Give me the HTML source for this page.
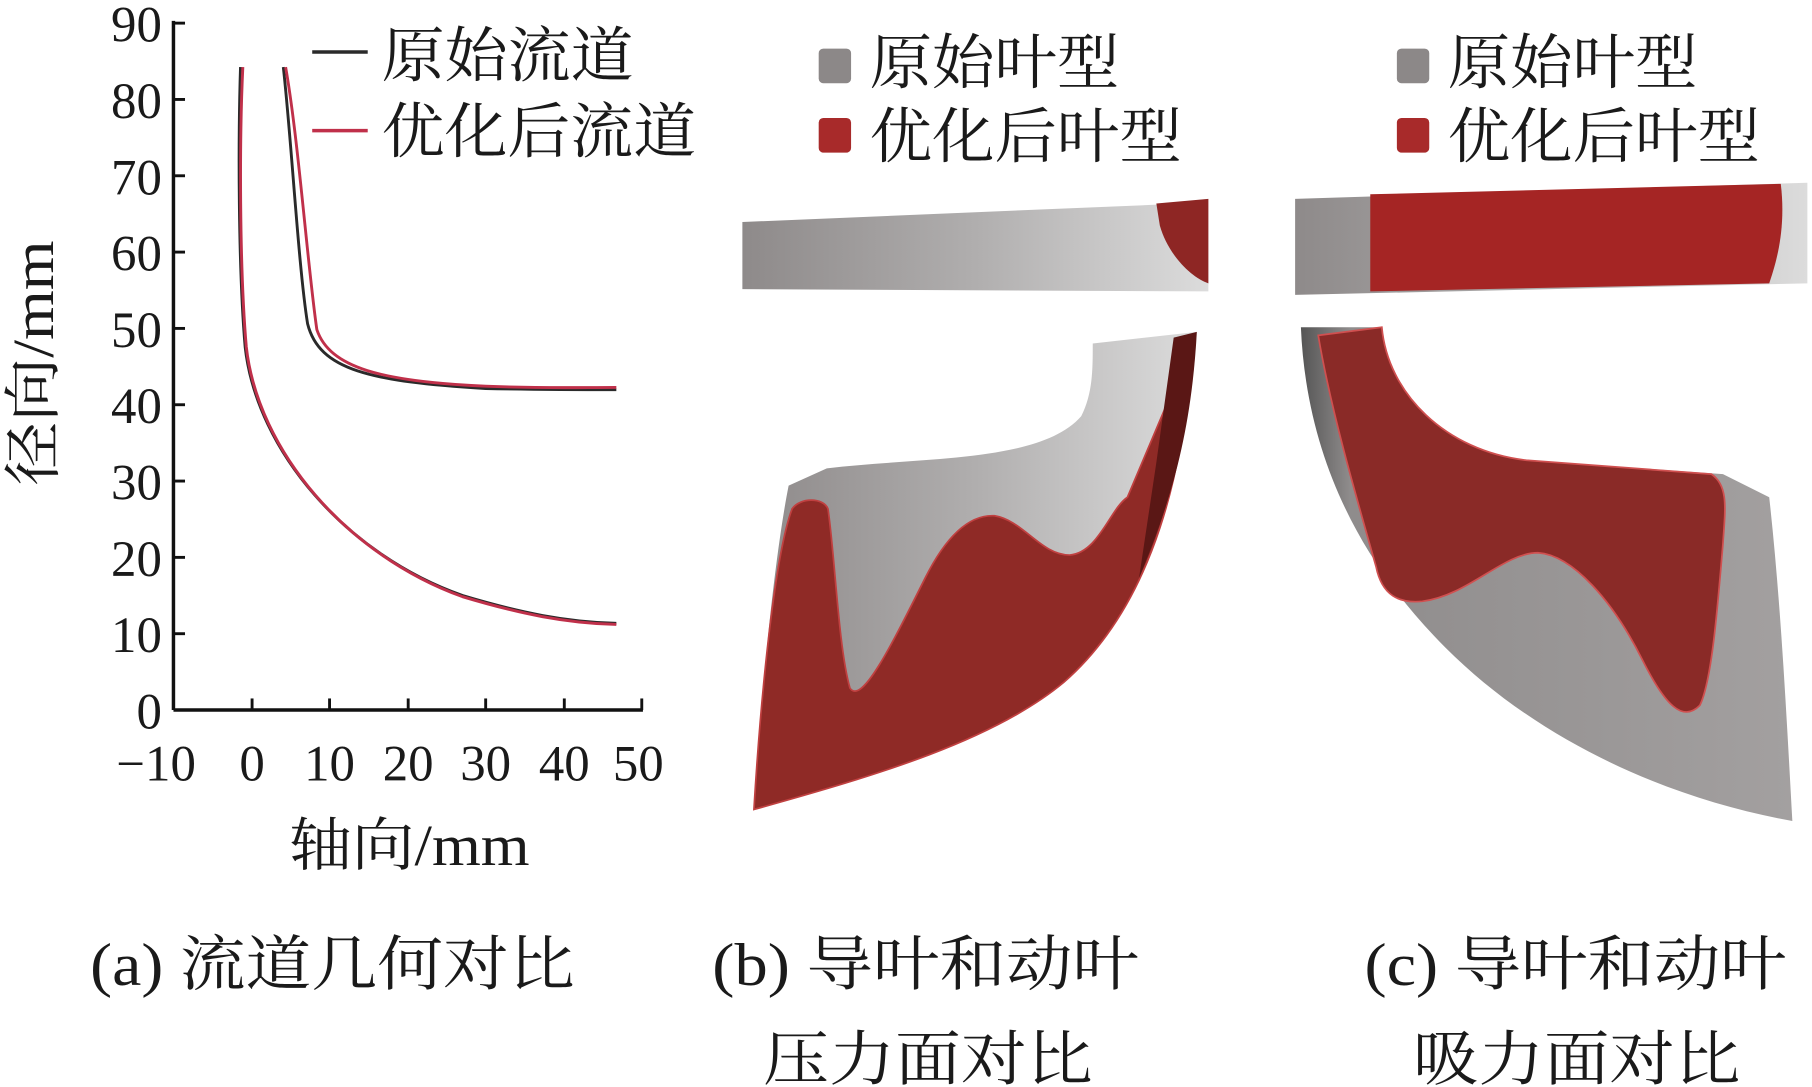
<!DOCTYPE html>
<html><head><meta charset="utf-8"><style>
html,body{margin:0;padding:0;background:#fff;width:1812px;height:1087px;overflow:hidden}
svg{display:block}
text{font-family:"Liberation Serif","Noto Serif CJK SC",serif;fill:#1a1a1a}
</style></head><body>
<svg width="1812" height="1087" viewBox="0 0 1567 940" preserveAspectRatio="none" xmlns="http://www.w3.org/2000/svg">
<defs>
<linearGradient id="gb" x1="0" y1="0" x2="1" y2="0"><stop offset="0" stop-color="#8e8a8a"/><stop offset="0.5" stop-color="#b0aeae"/><stop offset="1" stop-color="#dcdcdc"/></linearGradient>
<linearGradient id="gc" x1="0" y1="0" x2="1" y2="0"><stop offset="0" stop-color="#555"/><stop offset="0.1" stop-color="#8f8c8c"/><stop offset="1" stop-color="#a3a0a0"/></linearGradient>
</defs>
<g stroke="#111" stroke-width="3" fill="none">
<line x1="150" y1="18" x2="150" y2="614"/>
<line x1="150" y1="614" x2="556" y2="614"/>
<g stroke-width="2.5">
<line x1="150" y1="20" x2="160" y2="20"/><line x1="150" y1="86" x2="160" y2="86"/><line x1="150" y1="152" x2="160" y2="152"/><line x1="150" y1="218" x2="160" y2="218"/><line x1="150" y1="284" x2="160" y2="284"/><line x1="150" y1="350" x2="160" y2="350"/><line x1="150" y1="416" x2="160" y2="416"/><line x1="150" y1="482" x2="160" y2="482"/><line x1="150" y1="548" x2="160" y2="548"/>
<line x1="218" y1="614" x2="218" y2="604"/><line x1="285" y1="614" x2="285" y2="604"/><line x1="353" y1="614" x2="353" y2="604"/><line x1="420" y1="614" x2="420" y2="604"/><line x1="488" y1="614" x2="488" y2="604"/><line x1="555" y1="614" x2="555" y2="604"/>
</g></g>
<g font-size="44" text-anchor="end">
<text x="140" y="36">90</text><text x="140" y="102">80</text><text x="140" y="168">70</text><text x="140" y="234">60</text><text x="140" y="300">50</text><text x="140" y="366">40</text><text x="140" y="432">30</text><text x="140" y="498">20</text><text x="140" y="564">10</text><text x="140" y="630">0</text>
</g>
<g font-size="44" text-anchor="middle">
<text x="135" y="675">−10</text><text x="218" y="675">0</text><text x="285" y="675">10</text><text x="353" y="675">20</text><text x="420" y="675">30</text><text x="488" y="675">40</text><text x="552" y="675">50</text>
</g>
<text x="250" y="748" font-size="50" textLength="208" lengthAdjust="spacingAndGlyphs">轴向/mm</text>
<text transform="translate(46,420) rotate(-90)" font-size="50" textLength="212" lengthAdjust="spacingAndGlyphs">径向/mm</text>
<g fill="none" stroke-width="2.5">
<path d="M208,58 C206,120 206,230 212,300 C222,390 300,480 400,515 C450,530 490,538 533,539" stroke="#2a2a2a"/>
<path d="M210,58 C207,120 207,230 213,300 C223,390 300,480 400,516 C450,531 490,539 533,540" stroke="#c0304a"/>
<path d="M245,58 C252,120 258,230 266,280 C276,320 320,330 420,336 C470,337 500,337 533,337" stroke="#2a2a2a"/>
<path d="M247,58 C258,120 266,230 274,285 C285,318 330,330 420,334 C470,336 500,335 533,335" stroke="#c0304a"/>
</g>
<line x1="270" y1="45" x2="318" y2="45" stroke="#2a2a2a" stroke-width="3"/>
<line x1="270" y1="113" x2="318" y2="113" stroke="#c0304a" stroke-width="3"/>
<g font-size="52" lengthAdjust="spacingAndGlyphs">
<text x="330" y="66" textLength="218" lengthAdjust="spacingAndGlyphs">原始流道</text>
<text x="330" y="132" textLength="272" lengthAdjust="spacingAndGlyphs">优化后流道</text>
<text x="752" y="72" textLength="216" lengthAdjust="spacingAndGlyphs">原始叶型</text>
<text x="752" y="136" textLength="270" lengthAdjust="spacingAndGlyphs">优化后叶型</text>
<text x="1252" y="72" textLength="216" lengthAdjust="spacingAndGlyphs">原始叶型</text>
<text x="1252" y="136" textLength="270" lengthAdjust="spacingAndGlyphs">优化后叶型</text>
<text x="78" y="852" textLength="419" lengthAdjust="spacingAndGlyphs">(a) 流道几何对比</text>
<text x="616" y="852" textLength="369" lengthAdjust="spacingAndGlyphs">(b) 导叶和动叶</text>
<text x="660" y="934" textLength="285" lengthAdjust="spacingAndGlyphs">压力面对比</text>
<text x="1180" y="852" textLength="365" lengthAdjust="spacingAndGlyphs">(c) 导叶和动叶</text>
<text x="1222" y="934" textLength="283" lengthAdjust="spacingAndGlyphs">吸力面对比</text>
</g>
<rect x="708" y="42" width="28" height="30" rx="4" fill="#8c8888"/>
<rect x="708" y="102" width="28" height="30" rx="4" fill="#a82a2a"/>
<rect x="1208" y="42" width="28" height="30" rx="4" fill="#8c8888"/>
<rect x="1208" y="102" width="28" height="30" rx="4" fill="#a82a2a"/>
<path d="M642,192 L1000,177 L1045,172 L1045,252 L642,250 Z" fill="url(#gb)"/>
<path d="M1000,176 L1045,172 L1045,245 C1030,240 1010,220 1003,195 Z" fill="#8e2624"/>
<path d="M945,297 L1035,287 C1030,380 1000,520 920,590 C860,640 760,670 652,700 C658,600 670,480 682,420 L715,405 C800,395 900,400 935,360 C945,340 945,320 945,297 Z" fill="url(#gb)"/>
<path d="M652,700 C658,600 670,480 685,440 C692,430 712,430 716,440 C722,480 725,560 735,595 C745,610 770,560 800,500 C820,460 840,445 860,446 C885,450 900,480 925,480 C950,478 960,440 975,430 L1030,300 C1025,400 1000,520 920,590 C860,640 760,670 652,700 Z" fill="#8f2a26" stroke="#c04040" stroke-width="1.5"/>
<path d="M1015,292 L1035,287 C1030,380 1010,440 985,500 L1000,400 Z" fill="#5a1715"/>
<path d="M1120,172 L1563,158 L1563,245 L1120,255 Z" fill="url(#gb)"/>
<path d="M1185,168 L1540,159 C1545,200 1535,230 1530,245 L1185,252 Z" fill="#a52524"/>
<path d="M1125,283 L1195,283 C1200,340 1250,390 1320,398 L1490,410 L1530,430 C1540,520 1545,620 1550,710 C1440,690 1330,640 1250,560 C1180,490 1130,400 1125,283 Z" fill="url(#gc)"/>
<path d="M1140,290 L1195,283 C1200,340 1250,390 1320,398 L1480,410 C1495,420 1492,440 1490,470 C1485,530 1480,590 1470,610 C1455,625 1440,610 1420,570 C1395,520 1360,480 1330,478 C1300,478 1270,515 1230,520 C1210,522 1195,515 1190,490 C1170,420 1150,350 1140,290 Z" fill="#8a2a27" stroke="#d05050" stroke-width="1.5"/>
</svg>
</body></html>
